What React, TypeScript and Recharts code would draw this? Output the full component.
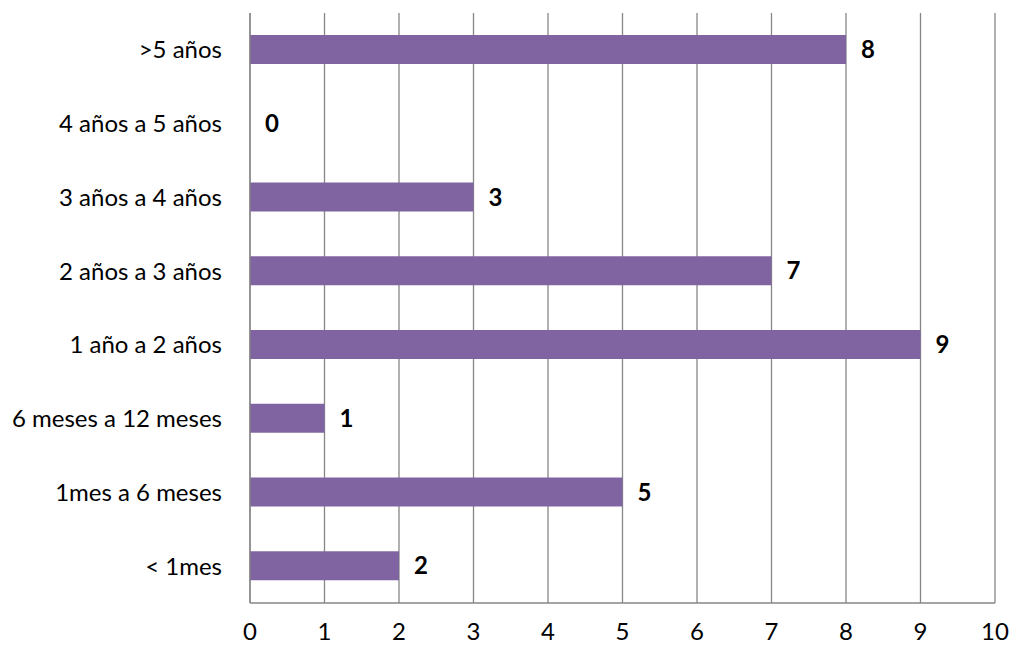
import React from 'react';
import { BarChart, Bar, XAxis, YAxis, CartesianGrid, LabelList } from 'recharts';

const categories = [
  '>5 años',
  '4 años a 5 años',
  '3 años a 4 años',
  '2 años a 3 años',
  '1 año a 2 años',
  '6 meses a 12 meses',
  '1mes a 6 meses ',
  '< 1mes',
];
const counts = [8, 0, 3, 7, 9, 1, 5, 2];
const xTicks = [0, 1, 2, 3, 4, 5, 6, 7, 8, 9, 10];

const data = categories.map((name, i) => ({ name, value: counts[i] }));

const gridColor = '#868686';
const font = 'Lato, "Open Sans", sans-serif';

export default function App() {
  return (
    <div style={{ position: 'absolute', left: 0, top: 0, width: 1011, height: 648, background: '#fff' }}>
      <BarChart
        width={1011}
        height={648}
        data={data}
        layout="vertical"
        margin={{ top: 13, right: 16, bottom: 0, left: 0 }}
      >
        <CartesianGrid horizontal={false} stroke={gridColor} strokeWidth={1.3} />
        <XAxis
          type="number"
          domain={[0, 10]}
          ticks={xTicks}
          interval={0}
          height={45}
          axisLine={{ stroke: gridColor, strokeWidth: 1.3 }}
          tickLine={false}
          tickSize={0}
          tickMargin={20}
          tick={{ fill: '#000', fontSize: 24, fontFamily: font }}
        />
        <YAxis
          type="category"
          dataKey="name"
          width={250}
          axisLine={{ stroke: gridColor, strokeWidth: 1.3 }}
          tickLine={false}
          tickSize={0}
          tickMargin={28}
          interval={0}
          tick={{ fill: '#000', fontSize: 24, fontFamily: font }}
        />
        <Bar dataKey="value" fill="#8064A2" barSize={29} minPointSize={0.01} isAnimationActive={false}>
          <LabelList
            dataKey="value"
            position="right"
            offset={15}
            style={{ fill: '#000', fontSize: 24, fontWeight: 'bold', fontFamily: font }}
          />
        </Bar>
      </BarChart>
    </div>
  );
}
